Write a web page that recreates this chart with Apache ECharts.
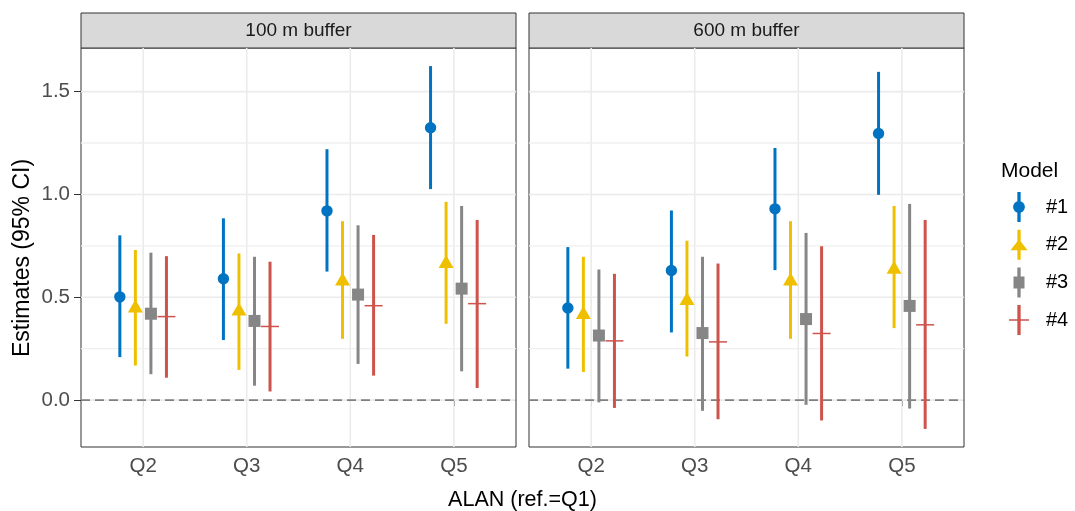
<!DOCTYPE html>
<html>
<head>
<meta charset="utf-8">
<script src="https://cdn.jsdelivr.net/npm/echarts@6/dist/echarts.min.js"></script>
<style>
html,body{margin:0;padding:0;background:#fff;}
#chart{width:1075px;height:511px;}
</style>
</head>
<body>
<div id="chart"></div>
<script>
// ---------- data ----------
const categories = ['Q2', 'Q3', 'Q4', 'Q5'];
const panels = ['100 m buffer', '600 m buffer'];
const models = ['#1', '#2', '#3', '#4'];
const yTicks = [0, 0.5, 1.0, 1.5];
const yMinorTicks = [0.25, 0.75, 1.25];
const refLine = 0;

// 100 m buffer: rows = models #1..#4, columns = Q2..Q5
const est100 = [
  [0.502, 0.590, 0.920, 1.324],
  [0.455, 0.440, 0.586, 0.671],
  [0.420, 0.385, 0.513, 0.542],
  [0.406, 0.358, 0.459, 0.469]
];
const low100 = [
  [0.209, 0.292, 0.625, 1.026],
  [0.168, 0.147, 0.298, 0.371],
  [0.126, 0.070, 0.176, 0.140],
  [0.109, 0.042, 0.119, 0.059]
];
const high100 = [
  [0.801, 0.884, 1.220, 1.624],
  [0.730, 0.713, 0.870, 0.964],
  [0.717, 0.697, 0.850, 0.944],
  [0.700, 0.673, 0.803, 0.876]
];
// 600 m buffer
const est600 = [
  [0.448, 0.630, 0.930, 1.296],
  [0.424, 0.492, 0.586, 0.643],
  [0.314, 0.326, 0.394, 0.458],
  [0.288, 0.283, 0.324, 0.366]
];
const low600 = [
  [0.153, 0.329, 0.632, 0.998],
  [0.137, 0.212, 0.298, 0.350],
  [-0.011, -0.052, -0.023, -0.041],
  [-0.038, -0.093, -0.099, -0.140]
];
const high600 = [
  [0.744, 0.922, 1.226, 1.596],
  [0.697, 0.775, 0.870, 0.944],
  [0.635, 0.697, 0.813, 0.954],
  [0.614, 0.664, 0.748, 0.876]
];

// ---------- style / layout ----------
const colors = ['#0073C2', '#EFC000', '#868686', '#CD534C'];
const dodge = [-0.225, -0.075, 0.075, 0.225];
const FONT = "'Liberation Sans', Arial, Helvetica, sans-serif";
const Y_MIN = -0.228, Y_MAX = 1.712;
const X_MIN = 0.4, X_MAX = 4.6;
const gridsPos = [{ left: 81, top: 48, width: 435, height: 399 }, { left: 529, top: 48, width: 435, height: 399 }];

const allEst = [est100, est600], allLow = [low100, low600], allHigh = [high100, high600];

const chart = echarts.init(document.getElementById('chart'), null, { renderer: 'canvas' });

function markerShape(m, p, color) {
  if (m === 0) return { type: 'circle', shape: { cx: p[0], cy: p[1], r: 5.7 }, style: { fill: color } };
  if (m === 1) return { type: 'polygon', shape: { points: [[p[0] - 7.5, p[1] + 6], [p[0], p[1] - 7], [p[0] + 7.5, p[1] + 6]] }, style: { fill: color } };
  if (m === 2) return { type: 'rect', shape: { x: p[0] - 6, y: p[1] - 6, width: 12, height: 12 }, style: { fill: color } };
  return { type: 'line', shape: { x1: p[0] - 9, y1: p[1], x2: p[0] + 9, y2: p[1] }, style: { stroke: color, lineWidth: 1.5 } };
}

const series = [];
for (let g = 0; g < 2; g++) {
  // gridlines
  const gl = [];
  categories.forEach((c, i) => gl.push([0, i + 1]));
  yTicks.forEach(v => gl.push([1, v]));
  yMinorTicks.forEach(v => gl.push([2, v]));
  series.push({
    type: 'custom', xAxisIndex: g, yAxisIndex: g, z: 1, silent: true,
    data: gl, encode: { x: -1, y: -1 },
    renderItem(params, api) {
      const t = api.value(0), v = api.value(1);
      const cs = params.coordSys;
      if (t === 0) {
        const x = api.coord([v, 0])[0];
        return { type: 'line', shape: { x1: x, y1: cs.y, x2: x, y2: cs.y + cs.height }, style: { stroke: '#ebebeb', lineWidth: 1.6 } };
      }
      const y = api.coord([1, v])[1];
      return { type: 'line', shape: { x1: cs.x, y1: y, x2: cs.x + cs.width, y2: y }, style: { stroke: t === 1 ? '#ebebeb' : '#efefef', lineWidth: t === 1 ? 1.6 : 1.3 } };
    }
  });
  // reference dashed line
  series.push({
    type: 'custom', xAxisIndex: g, yAxisIndex: g, z: 2, silent: true,
    data: [[refLine]], encode: { x: -1, y: -1 },
    renderItem(params, api) {
      const cs = params.coordSys;
      const y = api.coord([1, api.value(0)])[1];
      return { type: 'line', shape: { x1: cs.x, y1: y, x2: cs.x + cs.width, y2: y }, style: { stroke: '#808080', lineWidth: 1.6, lineDash: [9, 5] } };
    }
  });
  // estimates with CI
  for (let m = 0; m < models.length; m++) {
    const data = categories.map((c, i) => [i + 1 + dodge[m], allLow[g][m][i], allHigh[g][m][i], allEst[g][m][i]]);
    const color = colors[m];
    series.push({
      name: models[m], type: 'custom', xAxisIndex: g, yAxisIndex: g, z: 3 + m,
      itemStyle: { color: color },
      data: data, encode: { x: 0, y: [1, 2, 3] },
      renderItem(params, api) {
        const x = api.value(0);
        const pLo = api.coord([x, api.value(1)]);
        const pHi = api.coord([x, api.value(2)]);
        const pE = api.coord([x, api.value(3)]);
        return {
          type: 'group',
          children: [
            { type: 'line', shape: { x1: pHi[0], y1: pHi[1], x2: pLo[0], y2: pLo[1] }, style: { stroke: color, lineWidth: 3 } },
            markerShape(m, pE, color)
          ]
        };
      }
    });
  }
}

// legend key glyphs (vertical CI bar + point), 20 x 30 box
const bar = 'M8.35,0H11.65V30H8.35Z ';
const icons = [
  'path://' + bar + 'M4.1,15A5.9,5.9 0 1 1 15.9,15A5.9,5.9 0 1 1 4.1,15Z',
  'path://' + bar + 'M1.5,20.5L10,9.5L18.5,20.5Z',
  'path://' + bar + 'M4.5,9H15.5V21H4.5Z',
  'path://' + bar + 'M0,14.25H20V15.75H0Z'
];

const option = {
  animation: false,
  backgroundColor: '#ffffff',
  textStyle: { fontFamily: FONT },
  grid: gridsPos.map(p => Object.assign({ show: true, borderColor: '#333333', borderWidth: 1, backgroundColor: 'transparent', containLabel: false }, p)),
  xAxis: [0, 1].map(g => ({
    type: 'value', gridIndex: g, min: X_MIN, max: X_MAX,
    axisLine: { show: false },
    axisTick: { show: true, customValues: categories.map((c, i) => i + 1), length: 6, lineStyle: { color: '#333333', width: 1 } },
    axisLabel: { show: true, customValues: categories.map((c, i) => i + 1), formatter: v => categories[Math.round(v) - 1], color: '#4d4d4d', fontSize: 20.5, fontFamily: FONT, margin: 9 },
    splitLine: { show: false }
  })),
  yAxis: [0, 1].map(g => ({
    type: 'value', gridIndex: g, min: Y_MIN, max: Y_MAX,
    axisLine: { show: false },
    axisTick: { show: g === 0, customValues: yTicks, length: 7, lineStyle: { color: '#333333', width: 1 } },
    axisLabel: { show: g === 0, customValues: yTicks, formatter: v => v.toFixed(1), color: '#4d4d4d', fontSize: 20.5, fontFamily: FONT, margin: 11 },
    splitLine: { show: false }
  })),
  legend: {
    orient: 'vertical', left: 1009, top: 192, padding: 0,
    itemWidth: 44, itemHeight: 30, itemGap: 7.7,
    textStyle: { fontSize: 20, color: '#000000', fontFamily: FONT },
    data: models.map((n, i) => ({ name: n, icon: icons[i] })),
    selectedMode: false
  },
  graphic: [
    // strips
    ...gridsPos.map((p, g) => ({
      type: 'group', silent: true,
      children: [
        { type: 'rect', shape: { x: p.left, y: 13, width: p.width, height: 35 }, style: { fill: '#d9d9d9', stroke: '#333333', lineWidth: 1 } },
        { type: 'text', style: { x: p.left + p.width / 2, y: 30.5, text: panels[g], align: 'center', verticalAlign: 'middle', fontSize: 19, fontFamily: FONT, fill: '#1a1a1a' } }
      ]
    })),
    { type: 'text', silent: true, style: { x: 522.5, y: 500, text: 'ALAN (ref.=Q1)', align: 'center', verticalAlign: 'middle', fontSize: 21.5, fontFamily: FONT, fill: '#000000' } },
    { type: 'text', silent: true, x: 23, y: 258, rotation: Math.PI / 2, style: { x: 0, y: 0, text: 'Estimates (95% CI)', align: 'center', verticalAlign: 'middle', fontSize: 23, fontFamily: FONT, fill: '#000000' } },
    { type: 'text', silent: true, style: { x: 1001, y: 171, text: 'Model', align: 'left', verticalAlign: 'middle', fontSize: 21, fontFamily: FONT, fill: '#000000' } }
  ],
  series: series
};
chart.setOption(option);
</script>
</body>
</html>
